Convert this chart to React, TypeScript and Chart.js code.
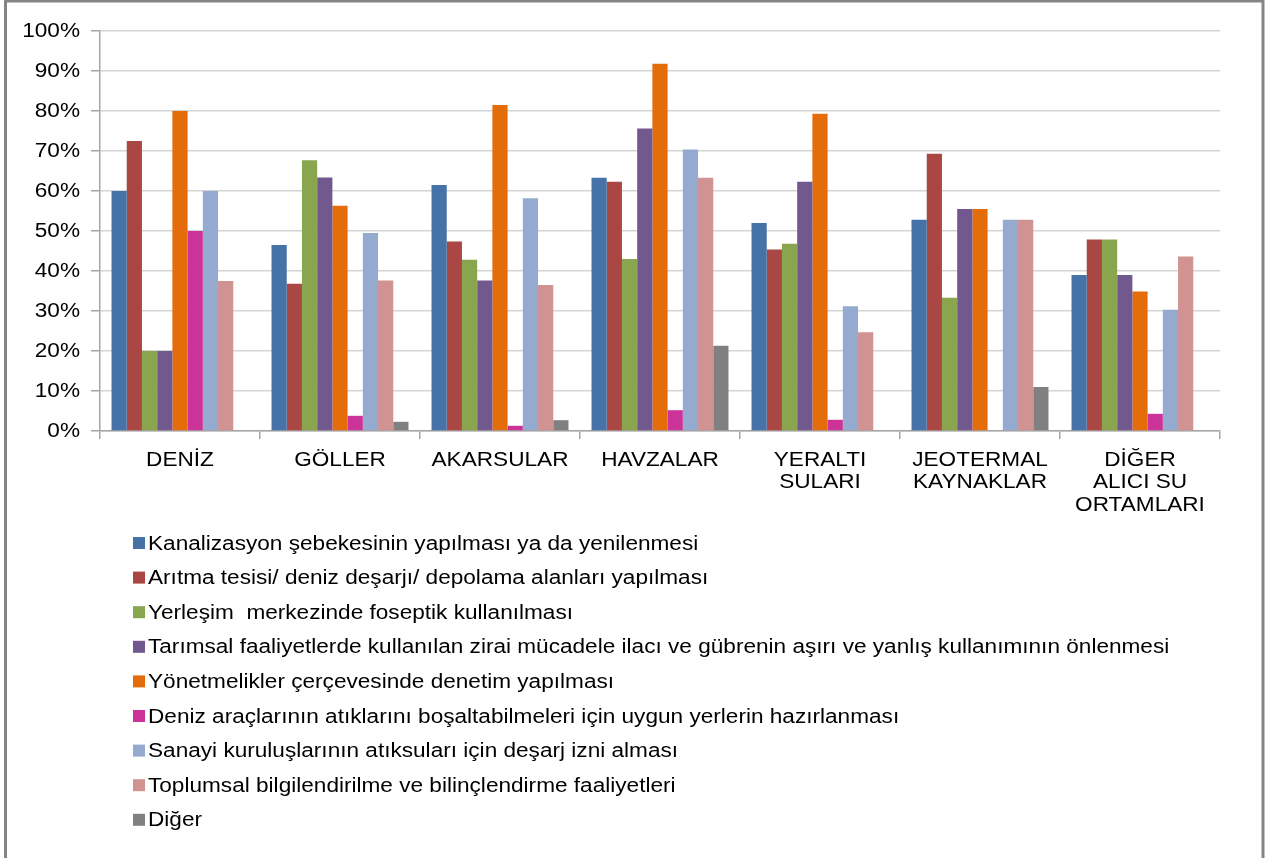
import React, { useEffect, useRef } from 'react';
import { Chart, registerables } from 'chart.js';

Chart.register(...registerables);

const categories: string[][] = [
  ['DENİZ'],
  ['GÖLLER'],
  ['AKARSULAR'],
  ['HAVZALAR'],
  ['YERALTI', 'SULARI'],
  ['JEOTERMAL', 'KAYNAKLAR'],
  ['DİĞER', 'ALICI SU', 'ORTAMLARI'],
];

const seriesNames: string[] = [
  'Kanalizasyon şebekesinin yapılması ya da yenilenmesi',
  'Arıtma tesisi/ deniz deşarjı/ depolama alanları yapılması',
  'Yerleşim  merkezinde foseptik kullanılması',
  'Tarımsal faaliyetlerde kullanılan zirai mücadele ilacı ve gübrenin aşırı ve yanlış kullanımının önlenmesi',
  'Yönetmelikler çerçevesinde denetim yapılması',
  'Deniz araçlarının atıklarını boşaltabilmeleri için uygun yerlerin hazırlanması',
  'Sanayi kuruluşlarının atıksuları için deşarj izni alması',
  'Toplumsal bilgilendirilme ve bilinçlendirme faaliyetleri',
  'Diğer',
];

const kanalizasyon = [60, 46.5, 61.5, 63.3, 52, 52.8, 39];
const aritma = [72.5, 36.8, 47.4, 62.3, 45.4, 69.3, 47.9];
const foseptik = [20, 67.7, 42.8, 43, 46.8, 33.3, 47.9];
const tarimsal = [20, 63.4, 37.6, 75.6, 62.3, 55.5, 39];
const denetim = [80, 56.3, 81.5, 91.8, 79.3, 55.5, 34.9];
const denizAraclari = [50, 3.8, 1.3, 5.2, 2.8, 0, 4.3];
const sanayi = [60, 49.5, 58.2, 70.4, 31.2, 52.8, 30.3];
const toplumsal = [37.5, 37.6, 36.5, 63.3, 24.7, 52.8, 43.6];
const diger = [0, 2.3, 2.7, 21.3, 0, 11, 0];

const seriesValues = [kanalizasyon, aritma, foseptik, tarimsal, denetim, denizAraclari, sanayi, toplumsal, diger];

const seriesColors = ['#4572A7', '#AA4643', '#89A54E', '#71588F', '#E46C0A', '#CC3399', '#95AACF', '#D19392', '#808080'];

const yTicks = { min: 0, max: 100, step: 10 };

const FONT = '"Liberation Sans", Arial, sans-serif';
const FONT_SIZE = 20;
const STRETCH = 1.13;

function drawStretched(ctx: CanvasRenderingContext2D, text: string, x: number, y: number, align: CanvasTextAlign) {
  ctx.save();
  ctx.translate(x, y);
  ctx.scale(STRETCH, 1);
  ctx.textAlign = align;
  ctx.fillText(text, 0, 0);
  ctx.restore();
}

const framePlugin = {
  id: 'frame',
  beforeDraw(chart: any) {
    const ctx = chart.ctx;
    ctx.save();
    ctx.fillStyle = '#ffffff';
    ctx.fillRect(0, 0, chart.width, chart.height);
    ctx.strokeStyle = '#858585';
    ctx.lineWidth = 3;
    ctx.strokeRect(5.5, 1, 1257.5, 880);
    ctx.restore();
  },
};

const stretchedLabels = {
  id: 'stretchedLabels',
  afterDraw(chart: any) {
    const ctx = chart.ctx as CanvasRenderingContext2D;
    const xs = chart.scales.x;
    const ys = chart.scales.y;
    ctx.save();
    ctx.font = `${FONT_SIZE}px ${FONT}`;
    ctx.fillStyle = '#000000';
    ctx.textBaseline = 'middle';
    // category labels
    (chart.data.labels as string[][]).forEach((lines, i) => {
      const px = xs.getPixelForTick(i);
      lines.forEach((line, k) => {
        drawStretched(ctx, line, px, xs.top + 29 + k * 22.6, 'center');
      });
    });
    // value labels
    ys.ticks.forEach((t: any, i: number) => {
      const py = ys.getPixelForTick(i);
      drawStretched(ctx, `${t.value}%`, ys.right - 20, py, 'right');
    });
    // legend, one entry per line
    chart.data.datasets.forEach((ds: any, i: number) => {
      const y = 543 + i * 34.6;
      ctx.fillStyle = ds.backgroundColor;
      ctx.fillRect(133, y - 6, 12, 12);
      ctx.fillStyle = '#000000';
      drawStretched(ctx, ds.label, 148, y + 1, 'left');
    });
    ctx.restore();
  },
};

export default function App() {
  const canvasRef = useRef<HTMLCanvasElement | null>(null);

  useEffect(() => {
    if (!canvasRef.current) return;
    Chart.defaults.font.family = FONT;
    const chart = new Chart(canvasRef.current, {
      type: 'bar',
      data: {
        labels: categories,
        datasets: seriesNames.map((name, i) => ({
          label: name,
          data: seriesValues[i],
          backgroundColor: seriesColors[i],
          borderWidth: 0,
          categoryPercentage: 0.856,
          barPercentage: 1,
        })),
      },
      options: {
        responsive: false,
        animation: false,
        layout: { padding: { left: 0, right: 46, top: 31, bottom: 0 } },
        plugins: {
          legend: { display: false },
          tooltip: { enabled: false },
          title: { display: false },
        },
        scales: {
          x: {
            grid: {
              offset: true,
              drawOnChartArea: false,
              drawTicks: true,
              tickLength: 8,
              color: '#a6a6a6',
              lineWidth: 1.5,
            },
            border: { color: '#a6a6a6', width: 1.5 },
            ticks: {
              color: 'rgba(0,0,0,0)',
              font: { size: FONT_SIZE, family: FONT },
              padding: 9,
              autoSkip: false,
              maxRotation: 0,
              minRotation: 0,
            },
            afterFit: (s: any) => {
              s.height = 427;
            },
          },
          y: {
            min: yTicks.min,
            max: yTicks.max,
            ticks: {
              stepSize: yTicks.step,
              color: 'rgba(0,0,0,0)',
              font: { size: FONT_SIZE, family: FONT },
              padding: 11,
              callback: (v: any) => `${v}%`,
            },
            grid: {
              color: '#d4d4d4',
              lineWidth: 1.5,
              tickLength: 9,
              tickColor: '#a6a6a6',
            },
            border: { color: '#a6a6a6', width: 1.5 },
            afterFit: (s: any) => {
              s.width = 100;
            },
          },
        },
      },
      plugins: [framePlugin, stretchedLabels],
    });
    return () => chart.destroy();
  }, []);

  return (
    <div style={{ position: 'absolute', left: 0, top: 0, width: 1266, height: 858, background: '#fff' }}>
      <canvas ref={canvasRef} width={1266} height={858} />
    </div>
  );
}
